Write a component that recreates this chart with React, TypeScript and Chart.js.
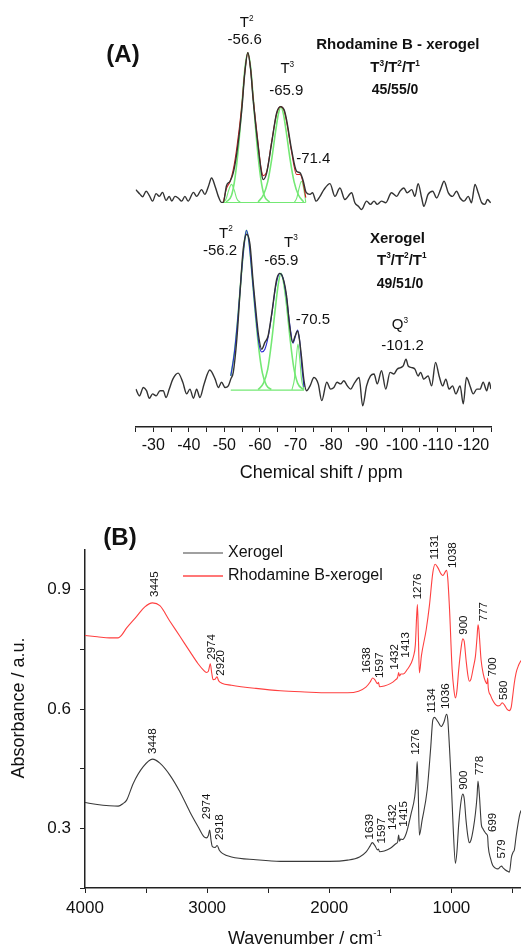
import React, { useEffect, useRef } from 'react';
import { Chart, registerables } from 'chart.js';
Chart.register(...registerables);

const FONT = '"Liberation Sans", Arial, Helvetica, sans-serif';
const TEXT = '#111111';
const AXIS = '#222222';
const GREEN = '#74e874';

// ---------------- Panel A : 29Si NMR (ppm, intensity) ----------------
const rhodSpectrum: [number, number][] = [
  [-25.1, 59.5], [-26.3, 58.3], [-27.0, 57.7], [-28.0, 59.1], [-28.9, 58.0], [-29.8, 56.6], [-30.8, 58.5],
  [-31.7, 57.8], [-32.6, 58.8], [-33.6, 56.8], [-34.5, 57.8], [-35.2, 56.6], [-36.1, 57.8], [-37.0, 57.4],
  [-38.0, 56.6], [-38.9, 57.8], [-39.8, 56.6], [-41.3, 58.8], [-42.2, 57.8], [-43.6, 59.5], [-44.5, 58.3],
  [-45.5, 60.3], [-46.4, 62.4], [-47.4, 60.3], [-48.3, 57.8], [-49.2, 56.3],
  [-49.7, 56.3], [-50.6, 60.5], [-51.6, 61.6], [-52.5, 63.7], [-53.5, 68.7], [-54.9, 79.5], [-55.7, 88.3],
  [-56.6, 93.8], [-57.4, 89.5], [-58.1, 82], [-59.5, 70.3], [-60.3, 64.5], [-60.9, 62], [-61.9, 63.7],
  [-63.3, 71.2], [-64.7, 78.7], [-65.8, 80.3], [-66.8, 79.5], [-67.5, 77], [-68.9, 69.5], [-70.3, 64.1],
  [-71.3, 63.7], [-72.2, 61.6], [-73.0, 58.8], [-74.1, 58.3],
  [-74.8, 58.7], [-75.8, 56.6], [-76.9, 57.8], [-78.0, 59.5], [-79.7, 61], [-81.1, 57.8], [-82.5, 59.9],
  [-83.9, 57], [-85.8, 58.7], [-86.7, 56.2], [-87.7, 55.3], [-88.6, 54.5], [-90.0, 56.6], [-91.1, 55.8],
  [-92.1, 56.6], [-93.0, 55.8], [-94.2, 56.6], [-95.4, 56.2], [-97.0, 58.7], [-98.5, 57.8], [-99.4, 59.1],
  [-100.5, 59.9], [-101.4, 58.7], [-102.7, 59.5], [-103.6, 57.8], [-104.5, 61], [-105.5, 57.4], [-106.1, 55.3],
  [-107.3, 58.3], [-108.6, 59.1], [-109.7, 57.4], [-110.8, 59.5], [-111.8, 61.6], [-113.0, 58.7], [-114.2, 57.8],
  [-115.3, 59.1], [-116.3, 57.4], [-117.4, 56.6], [-118.6, 57.8], [-119.5, 56.2], [-120.5, 60.8], [-121.4, 58.7],
  [-122.4, 56.2], [-123.3, 55.8], [-124.0, 57], [-124.9, 56.2],
];
const rhodFit: [number, number][] = [
  [-49.7, 56.3], [-50.6, 59.8], [-51.6, 61.5], [-52.5, 64.5], [-53.5, 70], [-54.9, 80.5], [-55.7, 88.5],
  [-56.6, 93.8], [-57.4, 89.5], [-58.1, 82.5], [-59.5, 71], [-60.3, 65], [-60.9, 63], [-61.9, 64],
  [-63.3, 71.5], [-64.7, 78.5], [-65.8, 80.3], [-66.8, 79.3], [-67.5, 76.5], [-68.9, 69], [-70.3, 63.3],
  [-71.3, 63.3], [-72.2, 61], [-72.9, 57.5],
];
const rhodT1: [number, number][] = [[-49.7, 56.3], [-50.5, 57.2], [-51.2, 59.3], [-52.0, 60.8], [-52.8, 59.3], [-53.5, 57.2], [-54.5, 56.3]];
const rhodT2: [number, number][] = [
  [-50.5, 56.4], [-52.0, 58], [-53.0, 62.5], [-54.0, 70.5], [-55.0, 81.5], [-55.8, 90], [-56.6, 93.8],
  [-57.4, 90], [-58.2, 81.5], [-59.2, 70.5], [-60.2, 62.5], [-61.2, 58], [-62.7, 56.4],
];
const rhodT3: [number, number][] = [
  [-59.5, 56.4], [-61.0, 58.2], [-62.2, 61.5], [-63.3, 67], [-64.4, 74], [-65.2, 78.5], [-65.9, 80.3],
  [-66.6, 78.5], [-67.4, 74], [-68.5, 67], [-69.6, 61.5], [-70.8, 58.2], [-72.3, 56.4],
];
const rhodT4: [number, number][] = [[-69.7, 56.3], [-70.4, 57.5], [-71.0, 59.8], [-71.7, 61.6], [-72.3, 59.8], [-72.9, 56.3]];
const rhodBase: [number, number][] = [[-49.7, 56.25], [-72.9, 56.25]];

const xeroSpectrum: [number, number][] = [
  [-25.1, 9.5], [-26.1, 7.8], [-27.2, 9.9], [-28.1, 9.1], [-28.9, 7.2], [-29.8, 8.3], [-30.8, 7.8], [-31.9, 9.1],
  [-32.8, 9.1], [-33.6, 7.4], [-34.5, 9.5], [-35.5, 12], [-37.0, 13.5], [-38.3, 11.2], [-39.4, 8.3], [-40.3, 9.5],
  [-41.3, 7.2], [-42.2, 9.5], [-43.1, 7.4], [-44.3, 10.8], [-45.9, 14.3], [-47.4, 12], [-48.3, 9.9], [-49.2, 11.2],
  [-50.2, 9.9], [-51.1, 10.3], [-51.8, 12],
  [-52.5, 13.7], [-53.5, 22], [-54.4, 33.7], [-55.3, 44.5], [-56.3, 48.3], [-57.2, 45.8], [-58.1, 36.2], [-59.1, 27],
  [-59.6, 23], [-60.5, 19.5], [-61.4, 21.2], [-62.3, 22.8], [-63.3, 28.3], [-64.7, 37], [-65.6, 38.5], [-66.6, 37],
  [-67.5, 32.8], [-68.3, 25.8], [-69.2, 21.2], [-69.9, 22.8], [-70.6, 24.1], [-71.1, 22], [-71.7, 17.5], [-72.4, 11.6],
  [-73.1, 9.1],
  [-74.1, 10.3], [-75.2, 12.4], [-76.4, 10.8], [-77.4, 6.6], [-78.8, 11.2], [-79.9, 9.5], [-80.8, 9.9], [-81.7, 11.2],
  [-82.7, 10.8], [-83.6, 11.6], [-84.6, 10.3], [-85.5, 9.5], [-86.7, 11.2], [-87.9, 12.4], [-88.9, 5.3], [-90.0, 10.3],
  [-91.1, 12.8], [-92.1, 13.3], [-93.0, 10.8], [-94.2, 14.1], [-95.4, 9.5], [-96.6, 13.7], [-97.7, 13.3], [-98.6, 14.5],
  [-99.6, 14.9], [-100.3, 15.3], [-101.1, 17], [-101.7, 15.3], [-102.7, 14.9], [-103.6, 14.5], [-104.5, 12.8],
  [-105.2, 13.7], [-106.1, 12], [-107.3, 12.8], [-108.3, 10.3], [-109.4, 16.2], [-110.4, 12.8], [-111.4, 10.3],
  [-112.3, 12], [-113.2, 9.5], [-114.2, 10.3], [-115.1, 8.3], [-116.3, 10.3], [-117.2, 5.8], [-118.1, 12.4],
  [-119.1, 10.3], [-120.0, 8.3], [-121.0, 9.5], [-121.9, 9.5], [-122.8, 11.2], [-123.8, 9.1], [-124.5, 11.2], [-125.0, 9.5],
];
const xeroFit: [number, number][] = [
  [-51.8, 12.8], [-52.8, 18.5], [-53.8, 27.5], [-54.8, 38.5], [-55.6, 46], [-56.2, 49.3], [-56.9, 46.5], [-57.7, 39],
  [-58.7, 29], [-59.7, 21], [-60.5, 18.8], [-61.4, 19.5], [-62.3, 22.5], [-63.3, 28], [-64.5, 35.5], [-65.6, 38.5],
  [-66.6, 37], [-67.5, 32.3], [-68.5, 25], [-69.3, 21], [-69.9, 22.5], [-70.6, 24.3], [-71.2, 21.5], [-71.8, 15], [-72.4, 10],
];
const xeroT2: [number, number][] = [
  [-51.8, 12.8], [-52.8, 18.5], [-53.8, 27.5], [-54.8, 38.5], [-55.6, 46], [-56.2, 49.3], [-56.9, 46.5], [-57.7, 39],
  [-58.7, 28.5], [-59.7, 19.5], [-60.7, 13.5], [-61.8, 10.5], [-63.2, 9.4],
];
const xeroT3: [number, number][] = [
  [-59.5, 9.4], [-61.0, 11], [-62.2, 14.5], [-63.3, 21.5], [-64.3, 29.5], [-65.2, 36], [-65.9, 38.5], [-66.6, 36.5],
  [-67.5, 30.5], [-68.5, 22], [-69.5, 15], [-70.6, 11], [-72.2, 9.4],
];
const xeroT4: [number, number][] = [[-69.0, 9.3], [-69.7, 12], [-70.2, 17], [-70.7, 20.8], [-71.2, 17], [-71.7, 12], [-72.4, 9.3]];
const xeroBase: [number, number][] = [[-51.8, 9.25], [-72.4, 9.25]];

const nmrTicks = [-25, -30, -35, -40, -45, -50, -55, -60, -65, -70, -75, -80, -85, -90, -95, -100, -105, -110, -115, -120, -125];
const nmrTickLabels = [-30, -40, -50, -60, -70, -80, -90, -100, -110, -120];

// text labels of panel A: [text, ppm, intensity, size, bold]
const nmrLabels: [string, number, number, number, boolean][] = [
  ['T^2', -56.27, 101.25, 15, false],
  ['-56.6', -55.7, 97.1, 15, false],
  ['T^3', -67.7, 89.75, 15, false],
  ['-65.9', -67.4, 84.2, 15, false],
  ['-71.4', -75.0, 67.1, 15, false],
  ['Rhodamine B - xerogel', -98.8, 95.75, 15, true],
  ['T^3/T^2/T^1', -98.0, 90, 15, true],
  ['45/55/0', -98.0, 84.4, 14, true],
  ['T^2', -50.45, 48.5, 15, false],
  ['-56.2', -48.8, 44.1, 15, false],
  ['T^3', -68.7, 46.25, 15, false],
  ['-65.9', -66.0, 41.7, 15, false],
  ['-70.5', -74.9, 26.9, 15, false],
  ['Xerogel', -98.7, 47.1, 15, true],
  ['T^3/T^2/T^1', -99.9, 41.75, 15, true],
  ['49/51/0', -99.4, 35.75, 14, true],
  ['Q^3', -99.4, 25.5, 15, false],
  ['-101.2', -100.1, 20.3, 15, false],
];

// ---------------- Panel B : FTIR (wavenumber, absorbance) ----------------
const irRhod: [number, number][] = [
  [4000, 0.785], [3900, 0.782], [3800, 0.779], [3728, 0.779], [3700, 0.786], [3659, 0.804], [3577, 0.833], [3510, 0.857],
  [3447, 0.867], [3387, 0.860], [3305, 0.821], [3223, 0.783], [3142, 0.745], [3074, 0.714], [3030, 0.698], [3006, 0.692],
  [2990, 0.695], [2974, 0.714], [2962, 0.690], [2951, 0.674], [2935, 0.675], [2920, 0.681], [2905, 0.671], [2880, 0.665],
  [2800, 0.660], [2600, 0.652], [2400, 0.646], [2200, 0.643], [2000, 0.641], [1850, 0.641], [1760, 0.645], [1700, 0.655],
  [1665, 0.668], [1645, 0.678], [1625, 0.673], [1605, 0.664], [1597, 0.667], [1588, 0.656], [1550, 0.658], [1500, 0.664],
  [1460, 0.673], [1440, 0.680], [1432, 0.692], [1425, 0.683], [1413, 0.688], [1395, 0.688], [1360, 0.700], [1330, 0.715],
  [1310, 0.733], [1295, 0.762], [1285, 0.83], [1278, 0.863], [1270, 0.78], [1262, 0.691], [1245, 0.735], [1206, 0.80],
  [1180, 0.86], [1152, 0.943], [1133, 0.964], [1110, 0.955], [1085, 0.940], [1070, 0.936], [1050, 0.945], [1040, 0.949],
  [1030, 0.93], [1015, 0.85], [994, 0.70], [980, 0.650], [967, 0.628], [955, 0.645], [940, 0.699], [920, 0.755],
  [907, 0.777], [895, 0.770], [880, 0.724], [865, 0.685], [853, 0.670], [840, 0.675], [820, 0.705], [803, 0.733],
  [790, 0.78], [782, 0.812], [775, 0.80], [757, 0.724], [740, 0.69], [722, 0.670], [708, 0.664], [703, 0.678],
  [698, 0.653], [680, 0.635], [662, 0.622], [640, 0.612], [620, 0.608], [600, 0.610], [585, 0.616], [565, 0.610],
  [545, 0.600], [526, 0.596], [510, 0.605], [499, 0.630], [485, 0.665], [471, 0.690], [450, 0.710], [430, 0.722],
];
const irXero: [number, number][] = [
  [4000, 0.365], [3900, 0.360], [3800, 0.357], [3728, 0.356], [3690, 0.362], [3659, 0.371], [3605, 0.413], [3523, 0.455],
  [3447, 0.474], [3387, 0.464], [3305, 0.434], [3223, 0.392], [3142, 0.342], [3074, 0.304], [3027, 0.279], [3006, 0.276],
  [2990, 0.282], [2979, 0.296], [2968, 0.270], [2957, 0.254], [2935, 0.252], [2918, 0.257], [2900, 0.245], [2875, 0.237],
  [2800, 0.228], [2600, 0.221], [2400, 0.217], [2200, 0.217], [2000, 0.217], [1850, 0.220], [1752, 0.228], [1700, 0.240],
  [1665, 0.256], [1648, 0.264], [1625, 0.256], [1605, 0.246], [1597, 0.248], [1588, 0.241], [1550, 0.243], [1500, 0.250],
  [1452, 0.262], [1440, 0.266], [1432, 0.283], [1424, 0.268], [1415, 0.273], [1400, 0.272], [1370, 0.287], [1329, 0.338],
  [1300, 0.38], [1288, 0.42], [1280, 0.468], [1272, 0.40], [1262, 0.283], [1240, 0.32], [1198, 0.397], [1170, 0.50],
  [1152, 0.573], [1139, 0.579], [1110, 0.568], [1084, 0.556], [1060, 0.568], [1040, 0.587], [1030, 0.575], [1015, 0.50],
  [1002, 0.422], [985, 0.30], [967, 0.212], [955, 0.24], [940, 0.31], [920, 0.37], [907, 0.386], [895, 0.375],
  [880, 0.32], [865, 0.28], [853, 0.264], [840, 0.27], [820, 0.30], [803, 0.338], [790, 0.38], [782, 0.419],
  [770, 0.38], [755, 0.31], [744, 0.300], [720, 0.288], [706, 0.283], [703, 0.279], [698, 0.254], [680, 0.225],
  [662, 0.207], [640, 0.200], [620, 0.198], [600, 0.203], [590, 0.205], [575, 0.200], [560, 0.196], [540, 0.192],
  [525, 0.190], [508, 0.228], [495, 0.240], [485, 0.245], [470, 0.280], [455, 0.310], [440, 0.335], [430, 0.345],
];
const irXTicks = [4000, 3500, 3000, 2500, 2000, 1500, 1000, 500];
const irXTickLabels = [4000, 3000, 2000, 1000];
const irYTicks = [0.15, 0.3, 0.45, 0.6, 0.75, 0.9];
const irYTickLabels = [0.3, 0.6, 0.9];

// peak labels: [text, wavenumber, absorbance at label start]
const irRhodLabels: [string, number, number][] = [
  ['3445', 3428, 0.882], ['2974', 2964, 0.724], ['2920', 2888, 0.684], ['1638', 1692, 0.691], ['1597', 1583, 0.678],
  ['1432', 1466, 0.699], ['1413', 1370, 0.729], ['1276', 1275, 0.876], ['1131', 1139, 0.976], ['1038', 989, 0.955],
  ['900', 899, 0.787], ['777', 738, 0.821], ['700', 662, 0.682], ['580', 567, 0.623],
];
const irXeroLabels: [string, number, number][] = [
  ['3448', 3442, 0.487], ['2974', 3000, 0.323], ['2918', 2896, 0.271], ['1639', 1670, 0.272], ['1597', 1566, 0.262],
  ['1432', 1480, 0.296], ['1415', 1392, 0.304], ['1276', 1289, 0.485], ['1134', 1158, 0.590], ['1036', 1043, 0.600],
  ['900', 902, 0.397], ['778', 765, 0.434], ['699', 657, 0.291], ['579', 585, 0.224],
];
const legendItems: [string, string][] = [['Xerogel', '#808080'], ['Rhodamine B-xerogel', '#ff4a4a']];

// ---------------- helpers ----------------
function segments(text: string) {
  const out: { t: string; sup: boolean }[] = [];
  const re = /\^(-?\d+)/g;
  let last = 0;
  let m: RegExpExecArray | null;
  while ((m = re.exec(text))) {
    if (m.index > last) out.push({ t: text.slice(last, m.index), sup: false });
    out.push({ t: m[1], sup: true });
    last = re.lastIndex;
  }
  if (last < text.length) out.push({ t: text.slice(last), sup: false });
  return out;
}
function drawRich(ctx: CanvasRenderingContext2D, text: string, x: number, y: number, size: number, bold: boolean, align = 'center') {
  const segs = segments(text);
  const f = (sz: number) => `${bold ? 'bold ' : ''}${sz}px ${FONT}`;
  let w = 0;
  for (const s of segs) {
    ctx.font = f(s.sup ? size * 0.55 : size);
    w += ctx.measureText(s.t).width;
  }
  let cx = align === 'center' ? x - w / 2 : align === 'right' ? x - w : x;
  ctx.textAlign = 'left';
  ctx.textBaseline = 'middle';
  for (const s of segs) {
    ctx.font = f(s.sup ? size * 0.55 : size);
    ctx.fillText(s.t, cx, s.sup ? y - size * 0.3 : y);
    cx += ctx.measureText(s.t).width;
  }
}
const line = (pts: [number, number][], color: string, width: number) => ({
  data: pts.map(([x, y]) => ({ x, y })),
  showLine: true,
  borderColor: color,
  backgroundColor: color,
  borderWidth: width,
  pointRadius: 0,
  pointHoverRadius: 0,
  cubicInterpolationMode: 'monotone',
  fill: false,
});
const fixedTicks = (values: number[]) => (scale: any) => {
  scale.ticks = values.map((value) => ({ value }));
};
const labelIf = (labels: number[], digits: number) => (v: any) => {
  const n = Number(v);
  return labels.some((l) => Math.abs(l - n) < 1e-6) ? n.toFixed(digits) : '';
};

const nmrTextPlugin = {
  id: 'nmrText',
  afterDraw(chart: any) {
    const { ctx, chartArea } = chart;
    const sx = chart.scales.x;
    const sy = chart.scales.y;
    ctx.save();
    ctx.fillStyle = TEXT;
    for (const [t, px, py, size, bold] of nmrLabels) {
      drawRich(ctx, t, sx.getPixelForValue(px), sy.getPixelForValue(py), size, bold);
    }
    drawRich(ctx, '(A)', 123, 55, 24, true);
    drawRich(ctx, 'Chemical shift / ppm', (chartArea.left + chartArea.right) / 2 + 8, chartArea.bottom + 46, 18, false);
    ctx.restore();
  },
};

const irTextPlugin = {
  id: 'irText',
  afterDraw(chart: any) {
    const { ctx, chartArea } = chart;
    const sx = chart.scales.x;
    const sy = chart.scales.y;
    ctx.save();
    ctx.fillStyle = TEXT;
    ctx.font = `11.5px ${FONT}`;
    ctx.textAlign = 'left';
    ctx.textBaseline = 'middle';
    for (const [t, wn, a] of [...irRhodLabels, ...irXeroLabels]) {
      ctx.save();
      ctx.translate(sx.getPixelForValue(wn), sy.getPixelForValue(a));
      ctx.rotate(-Math.PI / 2);
      ctx.fillText(t, 0, 0);
      ctx.restore();
    }
    legendItems.forEach(([label, color], i) => {
      const ly = chartArea.top + 3 + i * 23;
      ctx.strokeStyle = color;
      ctx.lineWidth = 1.3;
      ctx.beginPath();
      ctx.moveTo(chartArea.left + 98, ly);
      ctx.lineTo(chartArea.left + 138, ly);
      ctx.stroke();
      ctx.fillStyle = TEXT;
      drawRich(ctx, label, chartArea.left + 143, ly, 16, false, 'left');
    });
    drawRich(ctx, '(B)', 120, 48, 24, true);
    drawRich(ctx, 'Wavenumber / cm^-1', 305, chartArea.bottom + 51, 18, false);
    ctx.save();
    ctx.translate(19, 218);
    ctx.rotate(-Math.PI / 2);
    drawRich(ctx, 'Absorbance / a.u.', 0, 0, 18, false);
    ctx.restore();
    ctx.restore();
  },
};

function NmrChart() {
  const ref = useRef<HTMLCanvasElement>(null);
  useEffect(() => {
    const chart = new Chart(ref.current as HTMLCanvasElement, {
      type: 'scatter',
      data: {
        datasets: [
          line(rhodSpectrum, '#333333', 1.4),
          line(rhodFit, '#cc1f1f', 1.1),
          line(rhodT2, GREEN, 1.6),
          line(rhodT1, GREEN, 1.1),
          line(rhodT3, GREEN, 1.6),
          line(rhodT4, GREEN, 1.1),
          line(rhodBase, GREEN, 1.1),
          line(xeroSpectrum, '#333333', 1.4),
          line(xeroFit, '#2a2ad0', 1.1),
          line(xeroT2, GREEN, 1.6),
          line(xeroT3, GREEN, 1.6),
          line(xeroT4, GREEN, 1.1),
          line(xeroBase, GREEN, 1.1),
        ] as any,
      },
      options: {
        responsive: false,
        animation: false,
        events: [],
        layout: { padding: { left: 135.5, right: 30, top: 28, bottom: 0 } },
        plugins: { legend: { display: false }, tooltip: { enabled: false } },
        scales: {
          x: {
            type: 'linear',
            min: -125,
            max: -25,
            reverse: true,
            afterBuildTicks: fixedTicks(nmrTicks),
            afterFit: (s: any) => { s.height = 63; },
            grid: { drawOnChartArea: false, drawTicks: true, tickLength: 5, color: AXIS, lineWidth: 1 },
            border: { display: true, color: AXIS, width: 1.5 },
            ticks: {
              autoSkip: false,
              maxRotation: 0,
              padding: 4,
              color: TEXT,
              font: { family: FONT, size: 16 },
              callback: labelIf(nmrTickLabels, 0),
            },
          },
          y: { type: 'linear', min: 0, max: 100, display: false },
        },
      } as any,
      plugins: [nmrTextPlugin],
    });
    return () => chart.destroy();
  }, []);
  return <canvas ref={ref} width={521} height={490} style={{ position: 'absolute', left: 0, top: 0 }} />;
}

function IrChart() {
  const ref = useRef<HTMLCanvasElement>(null);
  useEffect(() => {
    const chart = new Chart(ref.current as HTMLCanvasElement, {
      type: 'scatter',
      data: {
        datasets: [line(irXero, '#3a3a3a', 1.1), line(irRhod, '#ff4040', 1.1)] as any,
      },
      options: {
        responsive: false,
        animation: false,
        events: [],
        layout: { padding: { left: 0, right: 0, top: 60, bottom: 0 } },
        plugins: { legend: { display: false }, tooltip: { enabled: false } },
        scales: {
          x: {
            type: 'linear',
            min: 430,
            max: 4000,
            reverse: true,
            afterBuildTicks: fixedTicks(irXTicks),
            afterFit: (s: any) => { s.height = 61; },
            grid: { drawOnChartArea: false, drawTicks: true, tickLength: 5, color: AXIS, lineWidth: 1 },
            border: { display: true, color: AXIS, width: 1.5 },
            ticks: {
              autoSkip: false,
              maxRotation: 0,
              padding: 5,
              color: TEXT,
              font: { family: FONT, size: 17 },
              callback: labelIf(irXTickLabels, 0),
            },
          },
          y: {
            type: 'linear',
            min: 0.15,
            max: 1.0,
            afterBuildTicks: fixedTicks(irYTicks),
            afterFit: (s: any) => { s.width = 85; },
            grid: { drawOnChartArea: false, drawTicks: true, tickLength: 5, color: AXIS, lineWidth: 1 },
            border: { display: true, color: AXIS, width: 1.5 },
            ticks: {
              autoSkip: false,
              padding: 9,
              color: TEXT,
              font: { family: FONT, size: 17 },
              callback: labelIf(irYTickLabels, 1),
            },
          },
        },
      } as any,
      plugins: [irTextPlugin],
    });
    return () => chart.destroy();
  }, []);
  return <canvas ref={ref} width={521} height={459} style={{ position: 'absolute', left: 0, top: 490 }} />;
}

export default function App() {
  return (
    <div style={{ position: 'absolute', left: 0, top: 0, width: 521, height: 949, background: '#ffffff', overflow: 'hidden' }}>
      <NmrChart />
      <IrChart />
    </div>
  );
}
